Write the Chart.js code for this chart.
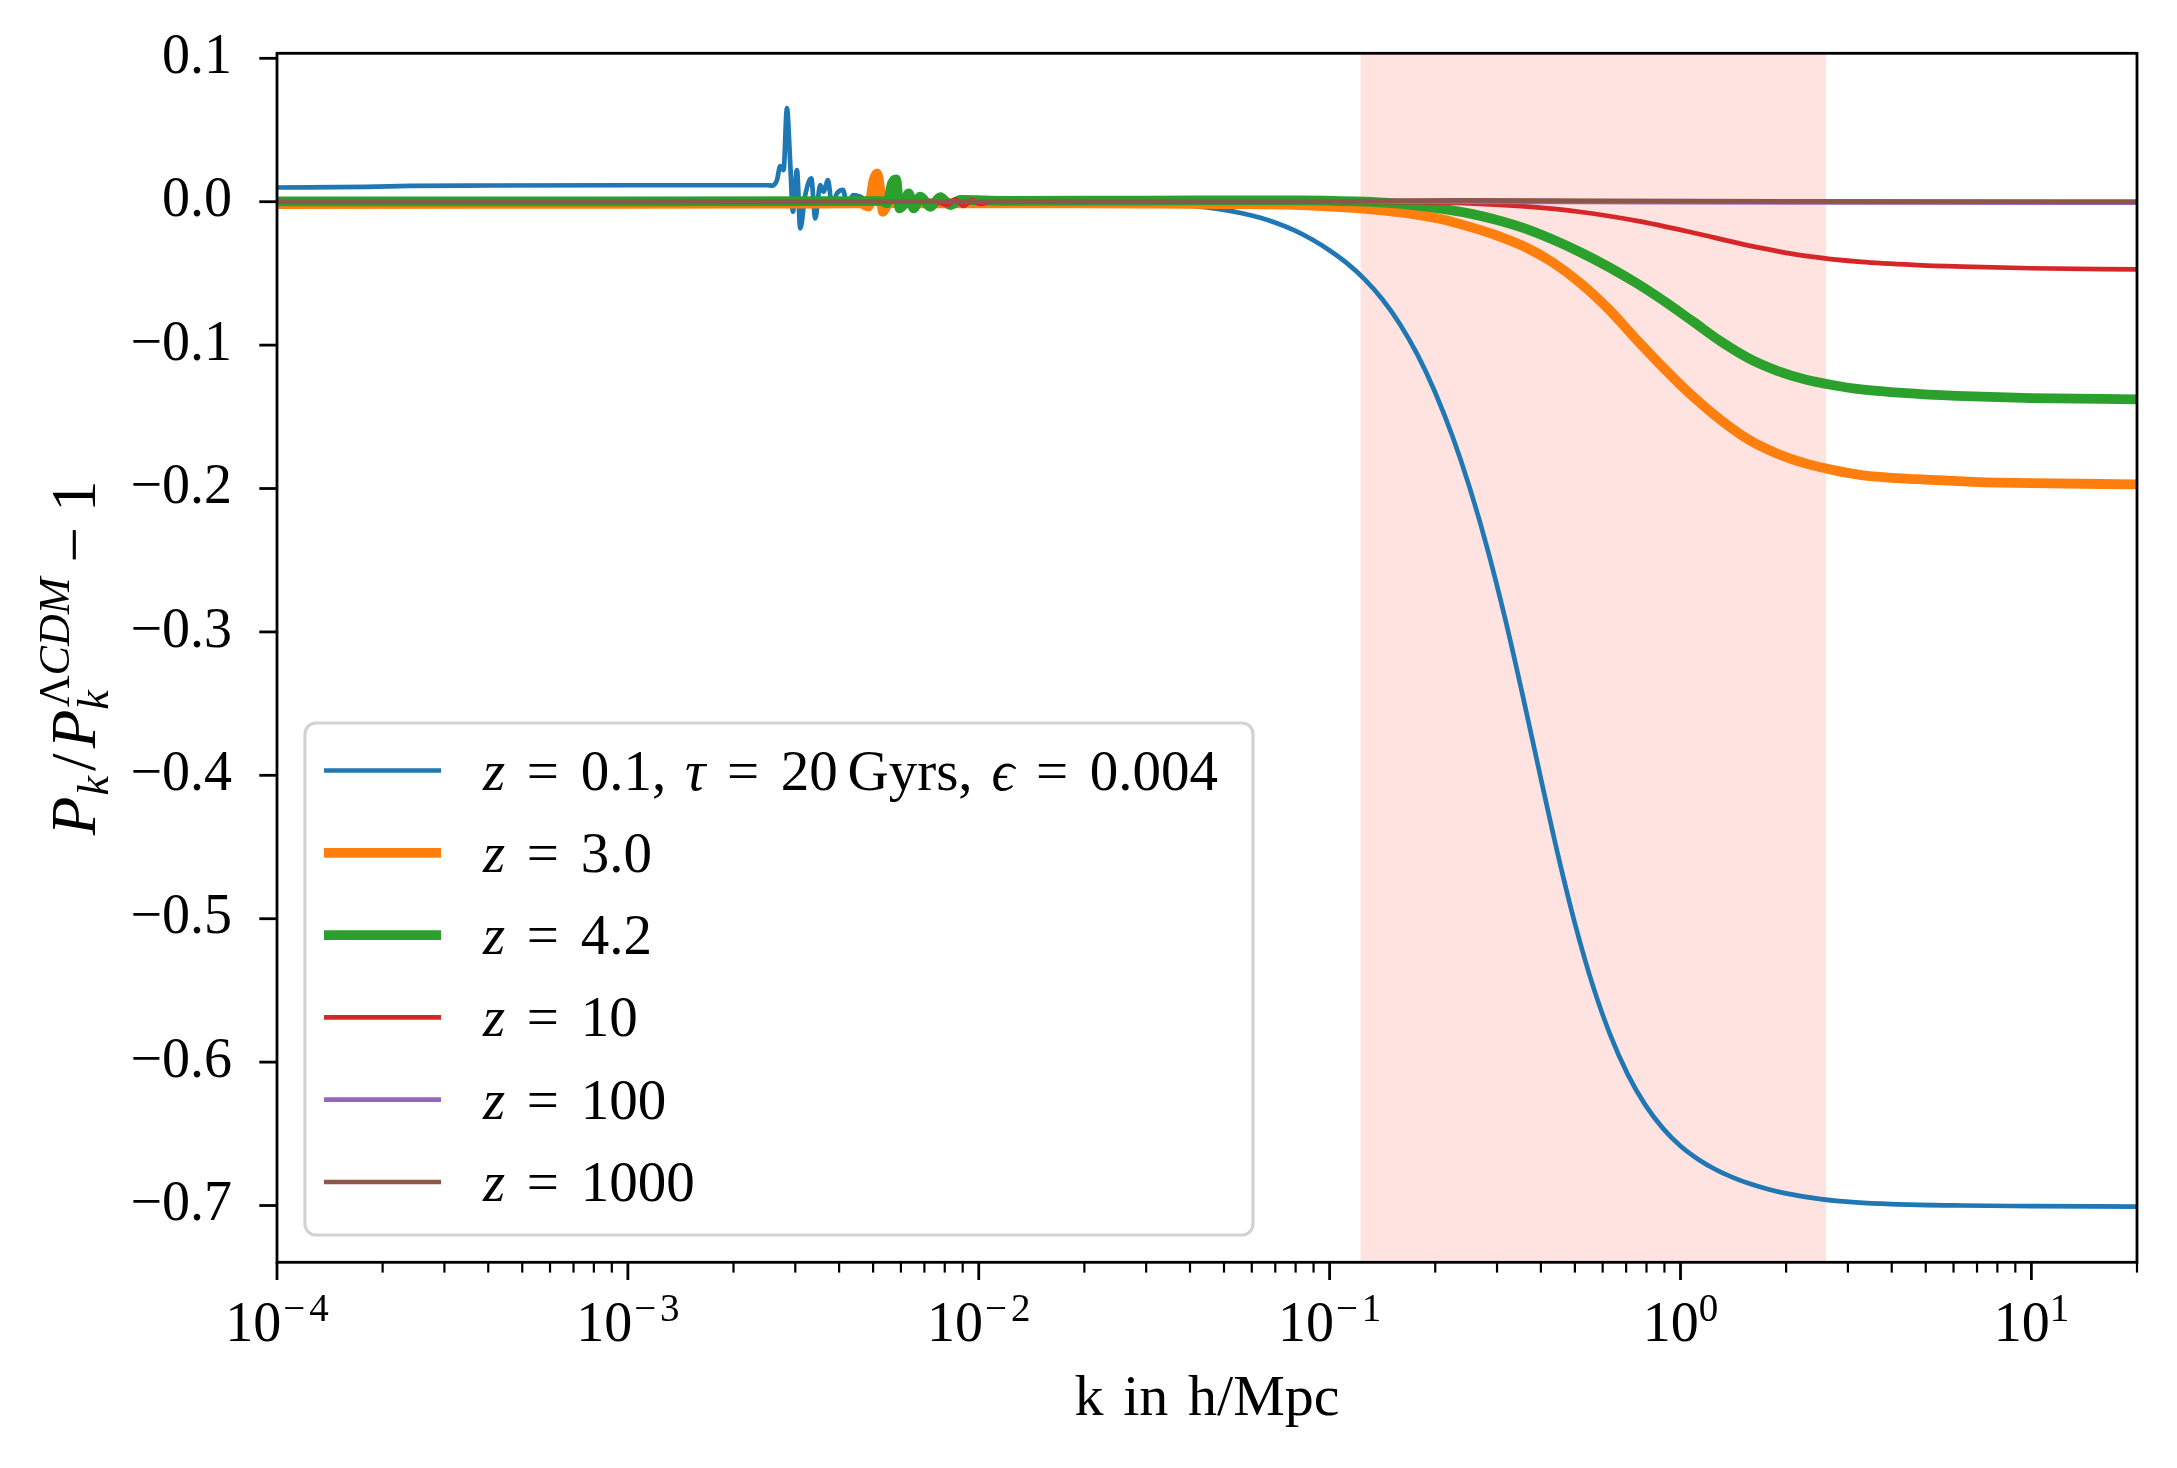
<!DOCTYPE html>
<html>
<head>
<meta charset="utf-8">
<title>Pk ratio</title>
<script src="https://cdn.jsdelivr.net/npm/chart.js@4.4.1/dist/chart.umd.min.js"></script>
<style>
html,body{margin:0;padding:0;background:#fff;overflow:hidden}
canvas{display:block}
</style>
</head>
<body>
<canvas id="chart" width="2177" height="1468" style="width:2177px;height:1468px"></canvas>
<script>
// values: k in h/Mpc, P_k/P_k^LCDM - 1

let kBlue = [1e-4, 1.8e-4, 2.4e-4, 4e-4, 1e-3, 2.5e-3,
  2.574e-3, 2.660e-3, 2.718e-3, 2.778e-3, 2.840e-3, 2.902e-3, 2.954e-3, 3.033e-3, 3.099e-3, 3.203e-3,
  3.331e-3, 3.420e-3, 3.534e-3, 3.612e-3, 3.717e-3, 3.816e-3, 3.944e-3, 4.102e-3, 4.211e-3, 4.398e-3,
  4.595e-3, 4.801e-3, 5.5e-3, 7e-3, 1e-2, 1.5e-2, 2e-2,
  0.02818, 0.03548, 0.04467, 0.05623, 0.06310, 0.07079, 0.07943, 0.08913, 0.1, 0.1122,
  0.1259, 0.1413, 0.1585, 0.1778, 0.1995, 0.2239, 0.2512, 0.2818, 0.3162, 0.3548,
  0.3981, 0.4467, 0.5012, 0.5623, 0.6310, 0.7079, 0.7943, 0.8913, 1, 1.122,
  1.259, 1.413, 1.585, 1.778, 1.995, 2.512, 3.162, 3.981, 6.310, 10, 20]
let yBlue = [0.0099, 0.0103, 0.0110, 0.0113, 0.0115, 0.0115,
  0.0112, 0.0151, 0.0249, 0.0221, 0.0652, 0.0268, -0.0070, 0.0221, -0.0186, 0.0047,
  0.0163, -0.0116, 0.0116, 0.0070, 0.0151, -0.0023, 0.0058, 0.0082, -0.0012, 0.0047,
  0.0035, 0.0005, 0.0008, 0.0006, 0.0005, 0.0004, 0.0002,
  0.0000, -0.0015, -0.0040, -0.0080, -0.0110, -0.0150, -0.0200, -0.0264, -0.0340, -0.0430,
  -0.0541, -0.0680, -0.0852, -0.1065, -0.1325, -0.1636, -0.2001, -0.2422, -0.2905, -0.3440,
  -0.4000, -0.4547, -0.5042, -0.5465, -0.5812, -0.6087, -0.6300, -0.6462, -0.6585, -0.6677,
  -0.6749, -0.6805, -0.6850, -0.6886, -0.6915, -0.6955, -0.6978, -0.6990, -0.7000, -0.7004, -0.7008]

let kOrange = [1e-4, 1e-3, 3e-3, 4.595e-3, 4.853e-3, 5.015e-3, 5.129e-3, 5.241e-3, 5.336e-3, 5.477e-3,
  5.720e-3, 8e-3, 1.5e-2, 3e-2, 5e-2, 0.0826, 0.1194, 0.1435, 0.1726, 0.2075,
  0.2495, 0.2999, 0.3597, 0.4325, 0.5200, 0.6252, 0.7516, 0.9036, 1.086, 1.306,
  1.570, 1.888, 2.270, 2.729, 3.273, 4.732, 6.839, 10, 20]
let yOrange = [-0.0016, -0.0015, -0.0013, -0.0012, -0.0034, 0.0151, 0.0198, 0.0082, -0.0070, -0.0023,
  -0.0010, -0.0012, -0.0012, -0.0013, -0.0016, -0.0023, -0.0045, -0.0062, -0.0086, -0.0121,
  -0.0174, -0.0236, -0.0314, -0.0424, -0.0570, -0.0752, -0.0965, -0.1170, -0.1360, -0.1525,
  -0.1662, -0.1757, -0.1825, -0.1872, -0.1906, -0.1935, -0.1953, -0.1963, -0.1971]

let kGreen = [1e-4, 1e-3, 4e-3, 5.3e-3, 5.477e-3, 5.659e-3, 5.810e-3, 5.950e-3, 6.136e-3, 6.313e-3,
  6.523e-3, 6.816e-3, 7.278e-3, 7.772e-3, 8.299e-3, 8.861e-3, 1.2e-2, 3e-2, 0.0826, 0.1194,
  0.1435, 0.1726, 0.2075, 0.2495, 0.2999, 0.3597, 0.4325, 0.5200, 0.6252, 0.7516,
  0.9036, 1.086, 1.306, 1.570, 1.888, 2.270, 2.729, 3.273, 4.732, 6.839, 10, 20]
let yGreen = [0.0002, 0.0003, 0.0004, 0.0004, -0.0012, 0.0128, 0.0156, -0.0046, -0.0012, 0.0058,
  -0.0046, 0.0035, -0.0035, 0.0031, -0.0023, 0.0012, 0.0006, 0.0008, 0.0010, 0.0002,
  -0.0007, -0.0023, -0.0048, -0.0081, -0.0127, -0.0186, -0.0264, -0.0354, -0.0456, -0.0570,
  -0.0698, -0.0836, -0.0976, -0.1094, -0.1179, -0.1240, -0.1280, -0.1309, -0.1340, -0.1358, -0.1369, -0.1378]

let kRed = [1e-4, 1e-3, 7.5e-3, 8.121e-3, 8.578e-3, 9.057e-3, 9.568e-3, 1.0106e-2, 1.08e-2, 3e-2,
  0.0826, 0.1726, 0.2495, 0.3597, 0.5200, 0.7516, 1.086, 1.570, 2.270, 3.273,
  4.732, 6.839, 10, 20]
let yRed = [0, 0, 0, -0.0023, 0.0016, -0.0030, 0.0012, -0.0016, 0, 0,
  0, -0.0003, -0.0012, -0.0033, -0.0072, -0.0134, -0.0216, -0.0306, -0.0378, -0.0420,
  -0.0442, -0.0455, -0.0464, -0.0472]

let kPurple = [1e-4, 1e-2, 0.1, 0.5, 2, 20]
let yPurple = [0, 0, 0, -0.0002, -0.0005, -0.0006]

let kBrown = [1e-4, 1e-2, 0.1, 0.16, 0.25, 0.6, 2, 20]
let yBrown = [0, 0, 0, 0.0008, 0.0010, 0.0006, 0.0002, 0]

let seriesLabels = ["z = 0.1, τ = 20 Gyrs, ϵ = 0.004", "z = 3.0", "z = 4.2", "z = 10", "z = 100", "z = 1000"]

// shaded k range
let bandRange = [0.1225, 2.6]

let xMin = 1e-4, xMax = 20
let yMin = -0.7396, yMax = 0.1035
let xMajorTicks = [1e-4, 1e-3, 1e-2, 1e-1, 1, 10]
let xTickExponents = ["−4", "−3", "−2", "−1", "0", "1"]
let yTicks = [-0.7, -0.6, -0.5, -0.4, -0.3, -0.2, -0.1, 0.0, 0.1]


let serif = "'Liberation Serif', 'Times New Roman', 'DejaVu Serif', serif"

let xTickValues = []
xMajorTicks.forEach(d => {
  for (let m = 1; m <= 9; m++) {
    let v = +(m * d).toPrecision(3)
    if (v <= xMax) xTickValues.push(v)
  }
})

function pts(ks, ys){
  return ks.map((k, i) => ({x: k, y: ys[i]}))
}

function setFont(ctx, size, italic){
  ctx.font = (italic ? "italic " : "") + size + "px " + serif
}

function fmtTick(v){
  return (Math.round(v * 10) / 10).toFixed(1).replace("-", "\u2212")
}

function roundRectPath(ctx, x, y, w, h, r){
  ctx.beginPath()
  ctx.moveTo(x + r, y)
  ctx.arcTo(x + w, y, x + w, y + h, r)
  ctx.arcTo(x + w, y + h, x, y + h, r)
  ctx.arcTo(x, y + h, x, y, r)
  ctx.arcTo(x, y, x + w, y, r)
  ctx.closePath()
}

// math-ish label: z, tau, epsilon in italics, wide spaces round "="
function drawMathLabel(ctx, label, x, y, size){
  let chars = Array.from(label)
  let run = "", runItalic = false
  let flush = () => {
    if (!run) return
    setFont(ctx, size, runItalic)
    ctx.fillText(run, x, y)
    x += ctx.measureText(run).width
    run = ""
  }
  chars.forEach((c, j) => {
    if (c === " ") {
      if (chars[j - 1] === "=" || chars[j + 1] === "=") return
      flush()
      x += (chars[j - 1] === "," ? 0.33 : 0.17) * size
      return
    }
    if (c === "=") {
      flush()
      x += 0.38 * size
      setFont(ctx, size, false)
      ctx.fillText("=", x, y)
      x += ctx.measureText("=").width + 0.38 * size
      return
    }
    let it = "zτϵ".includes(c)
    if (it !== runItalic) flush()
    runItalic = it
    run += c
  })
  flush()
}

function drawYTitle(ctx, bx, cy){
  let S = 63, s = Math.round(S * 0.7)
  let pieces = []
  let x = 0
  let put = (t, size, it, dy) => {
    setFont(ctx, size, it)
    pieces.push([t, size, it, dy, x])
    x += ctx.measureText(t).width
  }
  put("P", S, true, 0)
  x += 0.02 * S
  put("k", s, true, 0.2 * S)
  x += 0.08 * S
  put("/", S, false, 0)
  x += 0.08 * S
  put("P", S, true, 0)
  x += 0.04 * S
  let x0 = x
  put("Λ", s, false, -0.42 * S)
  put("CDM", s, true, -0.42 * S)
  let supEnd = x
  x = x0 - 0.04 * S
  put("k", s, true, 0.2 * S)
  x = Math.max(x, supEnd)
  x += 0.24 * S
  put("\u2212", S, false, 0)
  x += 0.24 * S
  put("1", S, false, 0)
  let W = x
  ctx.save()
  ctx.translate(bx, cy)
  ctx.rotate(-Math.PI / 2)
  ctx.fillStyle = "#000"
  ctx.textAlign = "left"
  ctx.textBaseline = "alphabetic"
  pieces.forEach(([t, size, it, dy, px]) => {
    setFont(ctx, size, it)
    ctx.fillText(t, px - W / 2, dy)
  })
  ctx.restore()
}

function drawLegend(ctx, chart){
  let ca = chart.chartArea
  let l = ca.left + 28, r = ca.left + 976
  let b = ca.bottom - 27.3, t = b - 512
  ctx.save()
  roundRectPath(ctx, l, t, r - l, b - t, 11)
  ctx.fillStyle = "rgba(255,255,255,0.8)"
  ctx.fill()
  ctx.lineWidth = 3.2
  ctx.strokeStyle = "#d2d2d2"
  ctx.stroke()
  ctx.fillStyle = "#000"
  ctx.textAlign = "left"
  ctx.textBaseline = "alphabetic"
  chart.data.datasets.forEach((ds, i) => {
    let cy = t + 47.5 + i * 82.3
    ctx.beginPath()
    ctx.moveTo(l + 19, cy)
    ctx.lineTo(l + 136, cy)
    ctx.strokeStyle = ds.borderColor
    ctx.lineWidth = ds.borderWidth
    ctx.lineCap = "butt"
    ctx.stroke()
    drawMathLabel(ctx, ds.label, l + 178, cy + 19, 57)
  })
  ctx.restore()
}

let decorPlugin = {
  id: "decor",
  beforeDatasetsDraw(chart){
    let {ctx, chartArea: ca, scales} = chart
    let x0 = scales.x.getPixelForValue(bandRange[0])
    let x1 = scales.x.getPixelForValue(bandRange[1])
    ctx.save()
    ctx.fillStyle = "#ffe3e0"
    ctx.fillRect(x0, ca.top, x1 - x0, ca.bottom - ca.top)
    ctx.restore()
  },
  afterDraw(chart){
    let {ctx, chartArea: ca, scales} = chart
    let xs = scales.x, ys = scales.y
    ctx.save()
    ctx.strokeStyle = "#000"
    ctx.fillStyle = "#000"

    // spines
    ctx.lineWidth = 2.8
    ctx.strokeRect(ca.left, ca.top, ca.right - ca.left, ca.bottom - ca.top)

    // y ticks
    yTicks.forEach(v => {
      let py = ys.getPixelForValue(v)
      ctx.beginPath()
      ctx.moveTo(ca.left - 17.7, py)
      ctx.lineTo(ca.left, py)
      ctx.stroke()
    })

    // x ticks, major and minor
    xTickValues.forEach(v => {
      let px = xs.getPixelForValue(v)
      let major = xMajorTicks.includes(v)
      ctx.lineWidth = major ? 2.8 : 2.2
      ctx.beginPath()
      ctx.moveTo(px, ca.bottom)
      ctx.lineTo(px, ca.bottom + (major ? 17.7 : 10.3))
      ctx.stroke()
    })

    // x tick labels 10^n
    ctx.textAlign = "left"
    ctx.textBaseline = "alphabetic"
    xMajorTicks.forEach((v, i) => {
      let px = xs.getPixelForValue(v)
      let exp = xTickExponents[i]
      setFont(ctx, 56, false)
      let wb = ctx.measureText("10").width
      setFont(ctx, 39, false)
      let ws = ctx.measureText(exp).width + (exp.startsWith("\u2212") ? 6 : 0)
      let left = px - (wb + ws) / 2
      setFont(ctx, 56, false)
      ctx.fillText("10", left, ca.bottom + 78.4)
      setFont(ctx, 39, false)
      if (exp.startsWith("\u2212")) {
        ctx.fillText("\u2212", left + wb + 2, ca.bottom + 58.2)
        let wm = ctx.measureText("\u2212").width
        ctx.fillText(exp.slice(1), left + wb + wm + 6, ca.bottom + 58.2)
      } else {
        ctx.fillText(exp, left + wb, ca.bottom + 58.2)
      }
    })

    // x title
    let words = ["k", "in", "h/Mpc"]
    let size = 58
    setFont(ctx, size, false)
    let gap = 0.34 * size
    let total = words.reduce((a, w) => a + ctx.measureText(w).width, 0) + gap * (words.length - 1)
    let wx = (ca.left + ca.right) / 2 - total / 2
    words.forEach(w => {
      ctx.fillText(w, wx, ca.bottom + 152.7)
      wx += ctx.measureText(w).width + gap
    })
    ctx.restore()

    drawYTitle(ctx, 95, (ca.top + ca.bottom) / 2)
    drawLegend(ctx, chart)
  }
}

Chart.defaults.font.family = serif
Chart.defaults.color = "#000"

let colors = ["#1f77b4", "#ff7f0e", "#2ca02c", "#d62728", "#9467bd", "#8c564b"]
let seriesK = [kBlue, kOrange, kGreen, kRed, kPurple, kBrown]
let seriesY = [yBlue, yOrange, yGreen, yRed, yPurple, yBrown]

let datasets = seriesLabels.map((label, i) => ({
  label: label,
  data: pts(seriesK[i], seriesY[i]),
  borderColor: colors[i],
  backgroundColor: colors[i],
  borderWidth: (i === 1 || i === 2) ? 9.8 : 4.7,
  pointRadius: 0,
  fill: false,
  cubicInterpolationMode: "monotone",
  borderJoinStyle: "round",
  borderCapStyle: "butt",
  order: seriesLabels.length - 1 - i
}))

new Chart(document.getElementById("chart"), {
  type: "line",
  data: {datasets: datasets},
  options: {
    responsive: false,
    devicePixelRatio: 1,
    animation: false,
    events: [],
    layout: {padding: {top: 53.3, right: 40, left: 0, bottom: 0}},
    plugins: {
      legend: {display: false},
      tooltip: {enabled: false}
    },
    scales: {
      x: {
        type: "logarithmic",
        min: xMin,
        max: xMax,
        bounds: "data",
        grid: {display: false, drawTicks: false},
        border: {display: false},
        ticks: {autoSkip: false, maxRotation: 0, callback: () => ""},
        afterBuildTicks: s => { s.ticks = xTickValues.map(v => ({value: v})) },
        afterFit: s => {
          s.height = 205.7
          s.paddingLeft = 0
          s.paddingRight = 0
        }
      },
      y: {
        type: "linear",
        min: yMin,
        max: yMax,
        bounds: "data",
        grid: {display: false, drawTicks: false},
        border: {display: false},
        ticks: {
          padding: 45,
          color: "#000",
          font: {family: serif, size: 56},
          callback: v => fmtTick(v)
        },
        afterBuildTicks: s => { s.ticks = yTicks.map(v => ({value: v})) },
        afterFit: s => {
          s.width = 277
          s.paddingTop = 0
          s.paddingBottom = 0
        }
      }
    }
  },
  plugins: [decorPlugin]
})
</script>
</body>
</html>
